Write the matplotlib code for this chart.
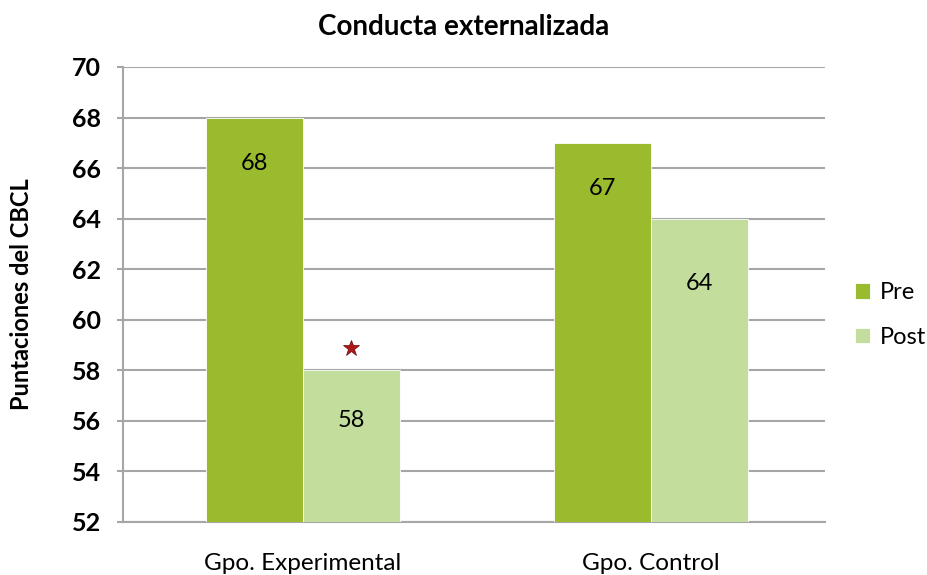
import matplotlib
matplotlib.use('Agg')
import matplotlib.pyplot as plt
import numpy as np

groups = ['Gpo. Experimental', 'Gpo. Control']
pre = [68, 67]
post = [58, 64]
series_names = ['Pre', 'Post']
y_ticks = [52, 54, 56, 58, 60, 62, 64, 66, 68, 70]

PRE_COLOR = '#9bbb2f'
POST_COLOR = '#c3de9c'
GRID_COLOR = '#a6a6a6'

plt.rcParams['font.family'] = ['Lato', 'DejaVu Sans']

fig = plt.figure(figsize=(9.28, 5.75), dpi=100)
ax = fig.add_axes([0.1325, 0.0922, 0.7565, 0.7913])

x = np.arange(len(groups))
w = 0.279
b1 = ax.bar(x - w / 2, pre, w, color=PRE_COLOR, label=series_names[0], zorder=3,
            edgecolor='white', linewidth=0.6)
b2 = ax.bar(x + w / 2, post, w, color=POST_COLOR, label=series_names[1], zorder=3,
            edgecolor='white', linewidth=0.6)

# value labels inside the top of each bar (offsets in points, as in the original)
label_offsets = [[-33, -33], [-36, -47]]
for bars, offs in zip((b1, b2), label_offsets):
    for rect, off in zip(bars, offs):
        h = rect.get_height()
        ax.annotate(f'{h:g}', (rect.get_x() + rect.get_width() / 2, h),
                    xytext=(0, off), textcoords='offset points',
                    ha='center', va='center', fontsize=17, color='black', zorder=4)

# significance star above experimental post bar
ax.plot(x[0] + w / 2, post[0] + 0.9, marker='*', color='#b01818',
        markersize=12, markeredgecolor='#6a0a0a', markeredgewidth=0.5, zorder=4)

ax.set_ylim(52, 70)
ax.set_xlim(-0.517, 1.5)
ax.set_yticks(y_ticks)
ax.set_yticklabels([str(t) for t in y_ticks], fontsize=18, fontweight='bold')
ax.set_xticks(x)
ax.set_xticklabels(groups, fontsize=17.5)
ax.tick_params(axis='x', length=0, pad=22)
ax.tick_params(axis='y', length=4, color=GRID_COLOR, width=1.5, pad=12)

ax.grid(axis='y', color=GRID_COLOR, linewidth=1.5, zorder=0)
for side in ('top', 'right'):
    ax.spines[side].set_visible(False)
for side in ('left', 'bottom'):
    ax.spines[side].set_color(GRID_COLOR)
    ax.spines[side].set_linewidth(1.5)

ax.set_ylabel('Puntaciones del CBCL', fontsize=17, fontweight='bold', labelpad=28)
fig.suptitle('Conducta externalizada', fontsize=20, fontweight='bold', y=0.975)

ax.legend(loc='center left', bbox_to_anchor=(0.921, 0.452), bbox_transform=fig.transFigure,
          frameon=False, fontsize=17, handlelength=0.65, handleheight=0.65,
          labelspacing=1.0, handletextpad=0.4, borderaxespad=0, borderpad=0)

plt.savefig('out.png', dpi=100)
